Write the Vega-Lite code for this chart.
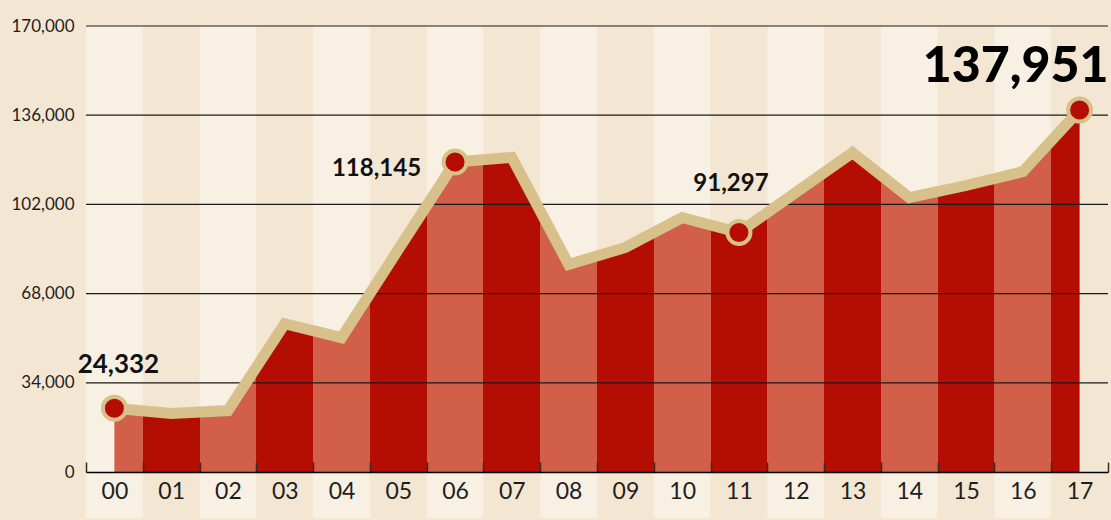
{
  "$schema": "https://vega.github.io/schema/vega-lite/v6.json",
  "autosize": {"type": "none"},
  "padding": {"left": 86, "top": 26, "right": 3, "bottom": 48},
  "width": 1022,
  "height": 446,
  "background": "#f3e7d3",
  "config": {
    "view": {"stroke": null},
    "font": "Lato"
  },
  "data": {"values": [
    {"year": "00", "value": 24332},
    {"year": "01", "value": 22300},
    {"year": "02", "value": 23400},
    {"year": "03", "value": 56500},
    {"year": "04", "value": 51200},
    {"year": "05", "value": 84800},
    {"year": "06", "value": 118145},
    {"year": "07", "value": 119900},
    {"year": "08", "value": 79100},
    {"year": "09", "value": 85600},
    {"year": "10", "value": 97000},
    {"year": "11", "value": 91297},
    {"year": "12", "value": 106500},
    {"year": "13", "value": 121700},
    {"year": "14", "value": 104600},
    {"year": "15", "value": 109200},
    {"year": "16", "value": 114500},
    {"year": "17", "value": 137951}
  ]},
  "encoding": {
    "x": {
      "field": "year", "type": "ordinal",
      "scale": {"paddingInner": 0, "paddingOuter": 0},
      "axis": {
        "title": null, "zindex": 1, "labelAngle": 0,
        "domainColor": "#000000", "domainWidth": 1.5,
        "tickBand": "extent", "tickSize": -10, "tickColor": "#3a2b22", "tickWidth": 1.5,
        "labelFontSize": 23, "labelFontWeight": 400, "labelColor": "#1e1e1e", "labelPadding": 18, "labelBaseline": "top",
        "labelFont": "Lato"
      }
    },
    "y": {
      "field": "value", "type": "quantitative",
      "scale": {"domain": [0, 170000], "nice": false},
      "axis": {"title": null, "values": [0, 34000, 68000, 102000, 136000, 170000], "labelExpr": "format(datum.value, ',')", "grid": false, "domain": false, "ticks": false, "labelPadding": 12, "labelFontSize": 17, "labelColor": "#1e1e1e", "labelFont": "Lato"}
    }
  },
  "layer": [
    {
      "mark": {"type": "bar", "clip": false},
      "encoding": {
        "y": {"datum": 170000, "type": "quantitative", "axis": {"title": null, "values": [0, 34000, 68000, 102000, 136000, 170000], "labelExpr": "format(datum.value, ',')", "grid": false, "domain": false, "ticks": false, "labelPadding": 12, "labelFontSize": 17, "labelColor": "#1e1e1e", "labelFont": "Lato"}},
        "y2": {"datum": -17500},
        "color": {
          "field": "year", "type": "nominal", "legend": null,
          "scale": {"range": ["#f8f0e3", "#f3e7d3", "#f8f0e3", "#f3e7d3", "#f8f0e3", "#f3e7d3", "#f8f0e3", "#f3e7d3", "#f8f0e3", "#f3e7d3", "#f8f0e3", "#f3e7d3", "#f8f0e3", "#f3e7d3", "#f8f0e3", "#f3e7d3", "#f8f0e3", "#f3e7d3"]}
        }
      }
    },
    {
      "mark": {
        "type": "area",
        "fill": {
          "gradient": "linear", "x1": 0, "x2": 1, "y1": 0, "y2": 0,
          "stops": [
            {"offset": 0, "color": "#d15f49"}, {"offset": 0.02941, "color": "#d15f49"},
            {"offset": 0.02941, "color": "#b30d04"}, {"offset": 0.08824, "color": "#b30d04"},
            {"offset": 0.08824, "color": "#d15f49"}, {"offset": 0.14706, "color": "#d15f49"},
            {"offset": 0.14706, "color": "#b30d04"}, {"offset": 0.20588, "color": "#b30d04"},
            {"offset": 0.20588, "color": "#d15f49"}, {"offset": 0.26471, "color": "#d15f49"},
            {"offset": 0.26471, "color": "#b30d04"}, {"offset": 0.32353, "color": "#b30d04"},
            {"offset": 0.32353, "color": "#d15f49"}, {"offset": 0.38235, "color": "#d15f49"},
            {"offset": 0.38235, "color": "#b30d04"}, {"offset": 0.44118, "color": "#b30d04"},
            {"offset": 0.44118, "color": "#d15f49"}, {"offset": 0.5, "color": "#d15f49"},
            {"offset": 0.5, "color": "#b30d04"}, {"offset": 0.55882, "color": "#b30d04"},
            {"offset": 0.55882, "color": "#d15f49"}, {"offset": 0.61765, "color": "#d15f49"},
            {"offset": 0.61765, "color": "#b30d04"}, {"offset": 0.67647, "color": "#b30d04"},
            {"offset": 0.67647, "color": "#d15f49"}, {"offset": 0.73529, "color": "#d15f49"},
            {"offset": 0.73529, "color": "#b30d04"}, {"offset": 0.79412, "color": "#b30d04"},
            {"offset": 0.79412, "color": "#d15f49"}, {"offset": 0.85294, "color": "#d15f49"},
            {"offset": 0.85294, "color": "#b30d04"}, {"offset": 0.91176, "color": "#b30d04"},
            {"offset": 0.91176, "color": "#d15f49"}, {"offset": 0.97059, "color": "#d15f49"},
            {"offset": 0.97059, "color": "#b30d04"}, {"offset": 1, "color": "#b30d04"}
          ]
        },
        "opacity": 1
      }
    },
    {
      "data": {"values": [{"g": 34000}, {"g": 68000}, {"g": 102000}, {"g": 136000}, {"g": 170000}]},
      "mark": {"type": "rule", "color": "#1a1a1a", "strokeWidth": 1.2},
      "encoding": {
        "x": null,
        "y": {"field": "g", "type": "quantitative", "axis": {"title": null, "values": [0, 34000, 68000, 102000, 136000, 170000], "labelExpr": "format(datum.value, ',')", "grid": false, "domain": false, "ticks": false, "labelPadding": 12, "labelFontSize": 17, "labelColor": "#1e1e1e", "labelFont": "Lato"}}
      }
    },
    {
      "mark": {"type": "line", "color": "#d8c08a", "strokeWidth": 11, "strokeJoin": "miter"}
    },
    {
      "transform": [{"filter": "datum.year == '00' || datum.year == '06' || datum.year == '11' || datum.year == '17'"}],
      "mark": {"type": "point", "filled": true, "fill": "#b50d03", "stroke": "#d8c08a", "strokeWidth": 4, "size": 530, "opacity": 1}
    },
    {
      "transform": [{"filter": "datum.year == '00'"}],
      "mark": {"type": "text", "align": "center", "baseline": "alphabetic", "dx": 4, "dy": -35, "fontSize": 26, "fontWeight": "bold", "color": "#111111", "font": "Lato"},
      "encoding": {"text": {"field": "value", "type": "quantitative", "format": ","}}
    },
    {
      "transform": [{"filter": "datum.year == '06'"}],
      "mark": {"type": "text", "align": "right", "baseline": "alphabetic", "dx": -34, "dy": 14, "fontSize": 24, "fontWeight": "bold", "color": "#111111", "font": "Lato"},
      "encoding": {"text": {"field": "value", "type": "quantitative", "format": ","}}
    },
    {
      "transform": [{"filter": "datum.year == '11'"}],
      "mark": {"type": "text", "align": "center", "baseline": "alphabetic", "dx": -8, "dy": -41, "fontSize": 24, "fontWeight": "bold", "color": "#111111", "font": "Lato"},
      "encoding": {"text": {"field": "value", "type": "quantitative", "format": ","}}
    },
    {
      "transform": [{"filter": "datum.year == '17'"}],
      "mark": {"type": "text", "align": "right", "baseline": "alphabetic", "dx": 29, "dy": -28, "fontSize": 50, "fontWeight": 900, "color": "#000000", "font": "Lato"},
      "encoding": {"text": {"field": "value", "type": "quantitative", "format": ","}}
    }
  ]
}
